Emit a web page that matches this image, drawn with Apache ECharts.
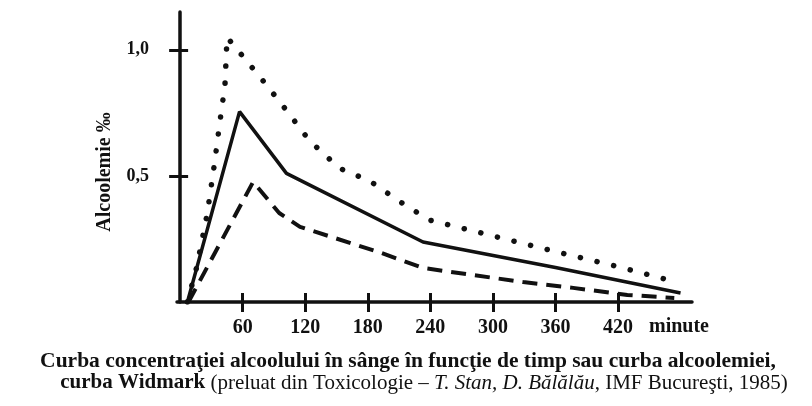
<!DOCTYPE html>
<html>
<head>
<meta charset="utf-8">
<script src="https://cdn.jsdelivr.net/npm/echarts@6/dist/echarts.min.js"></script>
<style>
  html, body { margin: 0; padding: 0; background: #fff; }
  #chart { width: 812px; height: 406px; }
</style>
</head>
<body>
<div id="chart"></div>
<script>
// minutes after ingestion, alcoolemie in g/L (‰)
const dotted = [
  [7, 0], [16, 0.14], [26, 0.35], [33, 0.55], [38, 0.71], [43, 0.86], [45, 1.05],
  [57, 0.99], [81, 0.87], [102, 0.76], [124, 0.64], [153, 0.53], [182, 0.48],
  [210, 0.40], [239, 0.325], [300, 0.262], [360, 0.20], [420, 0.14], [475, 0.08]
];
const solid = [
  [7, 0], [57, 0.755], [102, 0.51], [233, 0.238], [360, 0.137], [480, 0.036]
];
const dashed = [
  [8, 0], [70, 0.476], [95, 0.353], [115, 0.298], [192, 0.196], [233, 0.135],
  [281, 0.107], [329, 0.079], [377, 0.056], [429, 0.028], [474, 0.016]
];
const xTicks = [60, 120, 180, 240, 300, 360, 420];
const yTicks = [0.5, 1.0];

const ink = '#111';
const font = 'Liberation Serif';

const chart = echarts.init(document.getElementById('chart'), null, { renderer: 'canvas' });

const option = {
  backgroundColor: '#fff',
  animation: false,
  grid: { left: 177, right: 120, top: 12, bottom: 104 },
  xAxis: [
    {
      type: 'value',
      min: -3,
      max: 491,
      name: 'minute',
      nameLocation: 'end',
      nameGap: -43,
      nameTextStyle: {
        color: ink, fontFamily: font, fontWeight: 'bold', fontSize: 20,
        align: 'left', verticalAlign: 'top', padding: [15, 0, 0, 0]
      },
      splitLine: { show: false },
      axisLine: { show: true, lineStyle: { color: ink, width: 3.5 } },
      axisTick: { show: true, customValues: xTicks, length: 10, lineStyle: { color: ink, width: 3 } },
      axisLabel: {
        customValues: xTicks, margin: 16,
        color: ink, fontFamily: font, fontWeight: 'bold', fontSize: 20
      }
    },
    {
      type: 'value',
      min: -3,
      max: 491,
      position: 'bottom',
      splitLine: { show: false },
      axisLine: { show: false },
      axisTick: { show: true, inside: true, customValues: xTicks, length: 9, lineStyle: { color: ink, width: 3 } },
      axisLabel: { show: false }
    }
  ],
  yAxis: [
    {
      type: 'value',
      min: 0,
      max: 1.15,
      name: 'Alcoolemie ‰',
      nameLocation: 'middle',
      nameGap: 62,
      nameTextStyle: {
        color: ink, fontFamily: font, fontWeight: 'bold', fontSize: 20,
        padding: [0, 30, 0, 0]
      },
      splitLine: { show: false },
      axisLine: { show: true, lineStyle: { color: ink, width: 3.5 } },
      axisTick: { show: true, customValues: yTicks, length: 11, lineStyle: { color: ink, width: 3 } },
      axisLabel: {
        customValues: yTicks, margin: 28,
        formatter: (v) => v.toFixed(1).replace('.', ','),
        color: ink, fontFamily: font, fontWeight: 'bold', fontSize: 18
      }
    },
    {
      type: 'value',
      min: 0,
      max: 1.15,
      position: 'left',
      splitLine: { show: false },
      axisLine: { show: false },
      axisTick: { show: true, inside: true, customValues: yTicks, length: 8, lineStyle: { color: ink, width: 3 } },
      axisLabel: { show: false }
    }
  ],
  series: [
    {
      type: 'line',
      data: dotted,
      symbol: 'none',
      lineStyle: { color: ink, width: 5.5, type: [0.1, 17], cap: 'round' }
    },
    {
      type: 'line',
      data: solid,
      symbol: 'none',
      lineStyle: { color: ink, width: 3.5 }
    },
    {
      type: 'line',
      data: dashed,
      symbol: 'none',
      lineStyle: { color: ink, width: 4, type: [15, 9] }
    }
  ],
  graphic: [
    {
      type: 'text',
      x: 408,
      y: 361,
      style: {
        text: 'Curba concentraţiei alcoolului în sânge în funcţie de timp sau curba alcoolemiei,',
        align: 'center',
        verticalAlign: 'middle',
        fill: ink, font: 'bold 21.5px "Liberation Serif"'
      }
    },
    {
      type: 'text',
      x: 424,
      y: 383,
      style: {
        text: '{b|curba Widmark} (preluat din Toxicologie – {i|T. Stan, D. Bălălău}, IMF Bucureşti, 1985)',
        align: 'center',
        verticalAlign: 'middle',
        fill: ink,
        font: '21px "Liberation Serif"',
        rich: {
          b: { fontFamily: font, fontWeight: 'bold', fontSize: 21, fill: ink },
          i: { fontFamily: font, fontStyle: 'italic', fontSize: 21, fill: ink }
        }
      }
    }
  ]
};

chart.setOption(option);
</script>
</body>
</html>
